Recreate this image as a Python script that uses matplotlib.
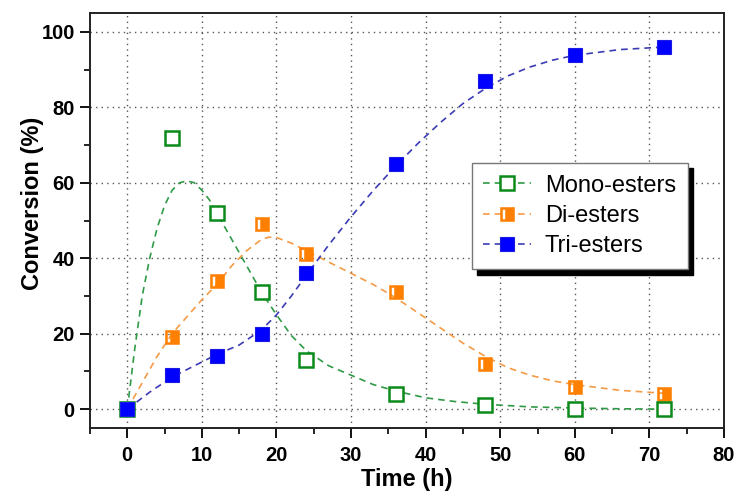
import matplotlib
matplotlib.use("Agg")
import matplotlib.pyplot as plt
from matplotlib.path import Path
from matplotlib.ticker import MultipleLocator

plt.rcParams["font.family"] = ["Liberation Sans", "DejaVu Sans"]

# measured conversions (%)
t_exp = [0, 6, 12, 18, 24, 36, 48, 60, 72]
mono = [0, 72, 52, 31, 13, 4, 1, 0, 0]
di = [0, 19, 34, 49, 41, 31, 12, 6, 4]
tri = [0, 9, 14, 20, 36, 65, 87, 94, 96]

# kinetic model curves
t_mono_fit = [0, 1, 2, 3, 4, 5, 6, 7, 8, 9, 10, 11, 12, 14, 16, 18, 20, 22, 24,
              27, 30, 33, 36, 40, 44, 48, 54, 60, 66, 72]
mono_fit = [0, 16, 30, 40, 48, 54, 58, 60, 60.5, 60, 58, 55.5, 52, 45, 38, 31,
            25, 19.5, 15.5, 11.5, 9, 6.5, 4.8, 3, 2, 1.3, 0.6, 0.3, 0.1, 0]
t_di_fit = [0, 2, 4, 6, 8, 10, 12, 14, 16, 18, 19, 20, 22, 24, 27, 30, 33, 36,
            39, 42, 45, 48, 51, 54, 57, 60, 66, 72]
di_fit = [0, 7, 14, 20, 24.5, 29, 33, 38, 42, 45, 45.6, 45.5, 44, 42, 39, 36,
          33, 29.5, 25.5, 21.5, 17.5, 14, 11, 9, 7.5, 6.5, 5, 4.2]
t_tri_fit = [0, 3, 6, 9, 12, 15, 18, 20, 22, 24, 27, 30, 33, 36, 39, 42, 45,
             48, 51, 54, 57, 60, 66, 72]
tri_fit = [0, 4.5, 8.5, 11.5, 14.5, 17, 21, 25, 30, 35.5, 43.5, 51, 58, 64.5,
           70.5, 76, 81, 85, 88.3, 90.7, 92.5, 93.8, 95.3, 96]

labels = ["Mono-esters", "Di-esters", "Tri-esters"]

# orange square with a small white slot on the left
outer = [(-0.5, -0.5), (0.5, -0.5), (0.5, 0.5), (-0.5, 0.5), (-0.5, -0.5)]
inner = [(-0.36, -0.34), (-0.36, 0.34), (-0.16, 0.34), (-0.16, -0.34), (-0.36, -0.34)]
codes = [Path.MOVETO, Path.LINETO, Path.LINETO, Path.LINETO, Path.CLOSEPOLY]
half_sq = Path(outer + inner, codes + codes)

fig = plt.figure(figsize=(7.39, 4.97), dpi=100)
ax = fig.add_axes([0.1218, 0.1388, 0.8579, 0.835])

dash = (0, (4, 3))
l1, = ax.plot(t_mono_fit, mono_fit, color="#2f9a46", lw=1.2, ls=dash, zorder=2)
l2, = ax.plot(t_di_fit, di_fit, color="#f59a45", lw=1.2, ls=dash, zorder=2)
l3, = ax.plot(t_tri_fit, tri_fit, color="#3b3bb5", lw=1.2, ls=dash, zorder=2)

p2, = ax.plot(t_exp, di, ls="none", marker=half_sq, ms=10.5, mfc="#ff8000",
              mec="#ff8000", mew=0.4, zorder=3)
p1, = ax.plot(t_exp, mono, ls="none", marker="s", ms=9.5, mfc="white",
              mec="#0a8a1a", mew=1.8, zorder=4)
p3, = ax.plot(t_exp, tri, ls="none", marker="s", ms=10.5, mfc="#0000ff",
              mec="#1a1ae0", mew=0.8, zorder=5)

ax.set_xlim(-5, 80)
ax.set_ylim(-5, 105)
ax.xaxis.set_major_locator(MultipleLocator(10))
ax.xaxis.set_minor_locator(MultipleLocator(5))
ax.yaxis.set_major_locator(MultipleLocator(20))
ax.yaxis.set_minor_locator(MultipleLocator(10))
ax.tick_params(which="major", direction="out", length=7, width=1.3,
               labelsize=14.5)
ax.tick_params(axis="x", which="major", pad=6)
ax.tick_params(axis="y", which="major", pad=4)
ax.tick_params(which="minor", direction="out", length=4, width=1.2)
for lab in ax.get_xticklabels() + ax.get_yticklabels():
    lab.set_fontweight("bold")
for sp in ax.spines.values():
    sp.set_linewidth(1.4)
    sp.set_color("#222222")

ax.grid(True, which="major", ls=(0, (1, 3)), color="#555555", lw=1.0)
ax.set_axisbelow(True)

ax.set_xlabel("Time (h)", fontsize=17, fontweight="bold", labelpad=2)
ax.set_ylabel("Conversion (%)", fontsize=17, fontweight="bold")
ax.yaxis.set_label_coords(-0.073, 0.542)

leg = ax.legend([(l1, p1), (l2, p2), (l3, p3)], labels,
                loc="upper left", bbox_to_anchor=(0.602, 0.639),
                borderaxespad=0, fontsize=17, labelspacing=0.35,
                handlelength=2.0, handletextpad=0.6, borderpad=0.5,
                fancybox=False, edgecolor="#777777", framealpha=1,
                shadow={"ox": 4, "oy": -4, "color": "black", "alpha": 1})
leg.get_frame().set_linewidth(1.0)

fig.savefig("out.png", dpi=100)
